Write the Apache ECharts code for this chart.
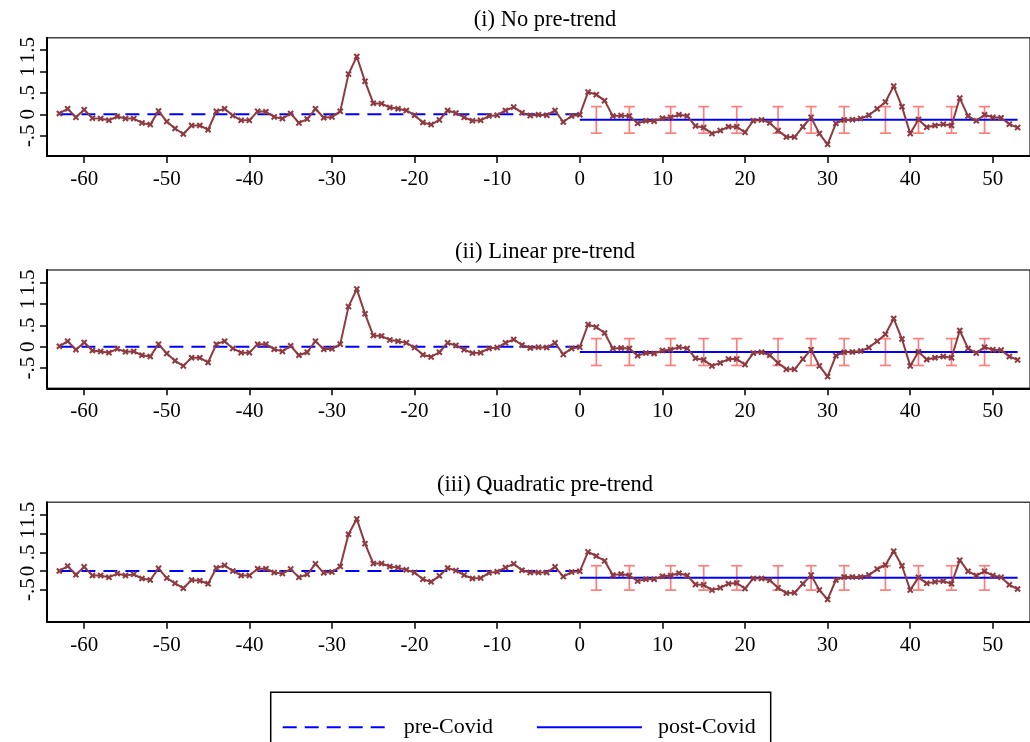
<!DOCTYPE html>
<html style="height: 100%">
<head>
    <meta charset="utf-8">
    <title>ECharts</title>
    <script src="https://cdn.jsdelivr.net/npm/echarts@6/dist/echarts.min.js"></script>
</head>

<body style="height: 100%; margin: 0">

    <div id="main" style="width: 1030px; height: 742px">
    </div>

<script type="text/javascript">
    // weeks relative to Covid onset: -63 ... 53
    var firstWeek = -63;
    var lastWeek = 53;

    var panelTitles = ['(i) No pre-trend', '(ii) Linear pre-trend', '(iii) Quadratic pre-trend'];

    var noTrend = [
        0.02, 0.13, -0.07, 0.11, -0.09, -0.10, -0.14, -0.05, -0.10, -0.10,
        -0.20, -0.24, 0.08, -0.17, -0.33, -0.46, -0.26, -0.26, -0.36, 0.07,
        0.13, -0.03, -0.14, -0.14, 0.07, 0.06, -0.06, -0.10, 0.02, -0.20,
        -0.11, 0.13, -0.08, -0.06, 0.07, 0.94, 1.35, 0.77, 0.26, 0.25,
        0.16, 0.13, 0.09, -0.02, -0.19, -0.24, -0.13, 0.09, 0.03, -0.07,
        -0.15, -0.14, -0.04, -0.02, 0.09, 0.17, 0.04, -0.03, -0.01, -0.02,
        0.09, -0.18, -0.04, -0.01, 0.52, 0.46, 0.32, -0.04, -0.03, -0.04,
        -0.21, -0.15, -0.16, -0.09, -0.07, -0.01, -0.04, -0.27, -0.31, -0.45,
        -0.38, -0.29, -0.29, -0.42, -0.15, -0.13, -0.20, -0.38, -0.53, -0.53,
        -0.29, -0.07, -0.45, -0.70, -0.21, -0.13, -0.125, -0.10, -0.02, 0.13,
        0.29, 0.66, 0.18, -0.45, -0.12, -0.30, -0.26, -0.23, -0.26, 0.38,
        -0.04, -0.15, -0.01, -0.07, -0.08, -0.23, -0.31
    ];
    var linearTrend = [
        0.01, 0.13, -0.07, 0.10, -0.09, -0.11, -0.14, -0.05, -0.12, -0.11,
        -0.20, -0.23, 0.06, -0.16, -0.33, -0.45, -0.26, -0.26, -0.37, 0.06,
        0.13, -0.04, -0.14, -0.14, 0.06, 0.06, -0.06, -0.11, 0.02, -0.20,
        -0.13, 0.13, -0.06, -0.05, 0.06, 0.94, 1.35, 0.77, 0.26, 0.25,
        0.16, 0.13, 0.09, -0.02, -0.19, -0.24, -0.13, 0.09, 0.03, -0.07,
        -0.15, -0.14, -0.04, -0.02, 0.09, 0.17, 0.04, -0.03, -0.01, -0.02,
        0.09, -0.18, -0.04, -0.01, 0.52, 0.46, 0.32, -0.04, -0.03, -0.04,
        -0.21, -0.15, -0.16, -0.09, -0.07, -0.01, -0.04, -0.27, -0.31, -0.45,
        -0.38, -0.29, -0.29, -0.42, -0.15, -0.13, -0.20, -0.38, -0.53, -0.53,
        -0.29, -0.07, -0.45, -0.70, -0.21, -0.13, -0.125, -0.10, -0.02, 0.13,
        0.29, 0.66, 0.18, -0.45, -0.12, -0.30, -0.26, -0.23, -0.26, 0.38,
        -0.04, -0.15, -0.01, -0.07, -0.08, -0.23, -0.31
    ];
    var quadTrend = [
        0.00, 0.13, -0.10, 0.11, -0.12, -0.12, -0.17, -0.07, -0.12, -0.09,
        -0.20, -0.24, 0.07, -0.19, -0.33, -0.46, -0.24, -0.26, -0.34, 0.08,
        0.15, 0.00, -0.12, -0.12, 0.06, 0.06, -0.04, -0.07, 0.05, -0.17,
        -0.09, 0.19, -0.05, -0.03, 0.12, 0.98, 1.39, 0.73, 0.20, 0.20,
        0.12, 0.09, 0.03, -0.04, -0.22, -0.29, -0.13, 0.08, 0.01, -0.11,
        -0.20, -0.19, -0.05, -0.02, 0.09, 0.19, 0.02, -0.04, -0.04, -0.04,
        0.11, -0.15, -0.03, -0.01, 0.51, 0.40, 0.27, -0.11, -0.08, -0.12,
        -0.27, -0.22, -0.22, -0.14, -0.12, -0.06, -0.12, -0.36, -0.37, -0.51,
        -0.45, -0.34, -0.32, -0.47, -0.20, -0.20, -0.25, -0.45, -0.59, -0.58,
        -0.34, -0.11, -0.51, -0.76, -0.24, -0.16, -0.16, -0.16, -0.11, 0.05,
        0.16, 0.53, 0.14, -0.51, -0.17, -0.33, -0.29, -0.27, -0.34, 0.29,
        -0.01, -0.12, -0.01, -0.12, -0.17, -0.37, -0.48
    ];

    // pre / post Covid mean levels for each panel
    var preLevel = [0, 0, 0];
    var postLevel = [-0.125, -0.125, -0.18];

    // confidence interval bars on the post-Covid mean
    var ciWeeks = [2, 6, 11, 15, 19, 24, 28, 32, 37, 41, 45, 49];
    var ciLow = [-0.44, -0.44, -0.51];
    var ciHigh = [0.18, 0.19, 0.14];

    var xTicks = [-60, -50, -40, -30, -20, -10, 0, 10, 20, 30, 40, 50];
    var yTicks = [
        [-0.5, 0, 0.5, 1, 1.5],
        [-0.5, 0, 0.5, 1, 1.5],
        [-1, -0.5, 0, 0.5, 1, 1.5]
    ];
    var yRange = [[-0.973, 1.79], [-0.975, 1.798], [-1.353, 1.833]];

    var panelValues = [noTrend, linearTrend, quadTrend];
    var gridTops = [37.7, 270, 502.3];
    var gridHeights = [118.3, 118.3, 119.4];

    var font = 'Liberation Serif';
    var lineColor = '#8e3a40';
    var ciColor = '#ff7d7d';
    var xMark = 'path://M0,2.2L2.2,0L5,2.8L7.8,0L10,2.2L7.2,5L10,7.8L7.8,10L5,7.2L2.2,10L0,7.8L2.8,5Z';

    function tickText(v) {
        var s = String(v);
        return s.replace('0.', '.');
    }

    var myChart = echarts.init(document.getElementById('main'), null, {renderer: 'canvas'});

    var titles = [], grids = [], xAxes = [], yAxes = [], series = [];
    for (var p = 0; p < 3; p++) {
        titles.push({
            text: panelTitles[p],
            left: 540,
            top: gridTops[p] - 34,
            textAlign: 'center',
            textStyle: {fontFamily: font, fontSize: 22.5, fontWeight: 'normal', color: '#000'}
        });
        grids.push({
            left: 47, width: 986, top: gridTops[p], height: gridHeights[p],
            show: true, borderColor: '#444', borderWidth: 1.5, backgroundColor: '#fff'
        });
        xAxes.push({
            type: 'value', gridIndex: p, min: -64.5, max: 54.5,
            axisLine: {show: true, onZero: false, lineStyle: {color: '#000', width: 2}},
            axisTick: {show: true, length: 7, customValues: xTicks, lineStyle: {color: '#000', width: 1.5}},
            axisLabel: {customValues: xTicks, fontFamily: font, fontSize: 21, color: '#000', margin: 13},
            splitLine: {show: false}
        });
        yAxes.push({
            type: 'value', gridIndex: p, min: yRange[p][0], max: yRange[p][1],
            axisLine: {show: true, onZero: false, lineStyle: {color: '#000', width: 2}},
            axisTick: {show: true, length: 7, customValues: yTicks[p], lineStyle: {color: '#000', width: 1.5}},
            axisLabel: {
                customValues: yTicks[p], rotate: 90, fontFamily: font, fontSize: 21, color: '#000', margin: 8,
                formatter: tickText
            },
            splitLine: {show: false}
        });

        var bars = [];
        for (var k = 0; k < ciWeeks.length; k++) {
            bars.push([ciWeeks[k], ciLow[p], ciHigh[p]]);
        }
        series.push({
            type: 'custom', xAxisIndex: p, yAxisIndex: p, silent: true, z: 1,
            data: bars,
            encode: {x: 0, y: [1, 2]},
            renderItem: function (params, api) {
                var lo = api.coord([api.value(0), api.value(1)]);
                var hi = api.coord([api.value(0), api.value(2)]);
                var w = 5.5;
                var st = {stroke: ciColor, lineWidth: 1.7};
                return {
                    type: 'group',
                    children: [
                        {type: 'line', shape: {x1: lo[0], y1: lo[1], x2: hi[0], y2: hi[1]}, style: st},
                        {type: 'line', shape: {x1: lo[0] - w, y1: lo[1], x2: lo[0] + w, y2: lo[1]}, style: st},
                        {type: 'line', shape: {x1: hi[0] - w, y1: hi[1], x2: hi[0] + w, y2: hi[1]}, style: st}
                    ]
                };
            }
        });
        series.push({
            name: 'pre-Covid', type: 'line', xAxisIndex: p, yAxisIndex: p, z: 2,
            symbol: 'none', silent: true,
            data: [[firstWeek, preLevel[p]], [0, preLevel[p]]],
            lineStyle: {color: '#0000ff', width: 2, type: [14, 8]},
            itemStyle: {color: '#0000ff'}
        });
        series.push({
            name: 'post-Covid', type: 'line', xAxisIndex: p, yAxisIndex: p, z: 2,
            symbol: 'none', silent: true,
            data: [[0, postLevel[p]], [lastWeek, postLevel[p]]],
            lineStyle: {color: '#0000ff', width: 2},
            itemStyle: {color: '#0000ff'}
        });

        var pts = [];
        for (var i = 0; i < panelValues[p].length; i++) {
            pts.push([firstWeek + i, panelValues[p][i]]);
        }
        series.push({
            type: 'line', xAxisIndex: p, yAxisIndex: p, z: 3, silent: true,
            data: pts,
            symbol: xMark, symbolSize: 6.5, showAllSymbol: true,
            lineStyle: {color: lineColor, width: 2},
            itemStyle: {color: lineColor}
        });
    }

    var option = {
        backgroundColor: '#fff',
        animation: false,
        title: titles,
        grid: grids,
        xAxis: xAxes,
        yAxis: yAxes,
        legend: {
            data: ['pre-Covid', 'post-Covid'],
            left: 270.7, top: 692.3,
            orient: 'horizontal',
            itemWidth: 105, itemHeight: 22, itemGap: 43,
            padding: [24, 15, 40, 11],
            borderColor: '#000', borderWidth: 1.5,
            selectedMode: false,
            itemStyle: {opacity: 0, borderWidth: 0},
            textStyle: {fontFamily: font, fontSize: 22, color: '#000', padding: [0, 0, 0, 11]}
        },
        series: series
    };
    myChart.setOption(option);
</script>
</body>
</html>
